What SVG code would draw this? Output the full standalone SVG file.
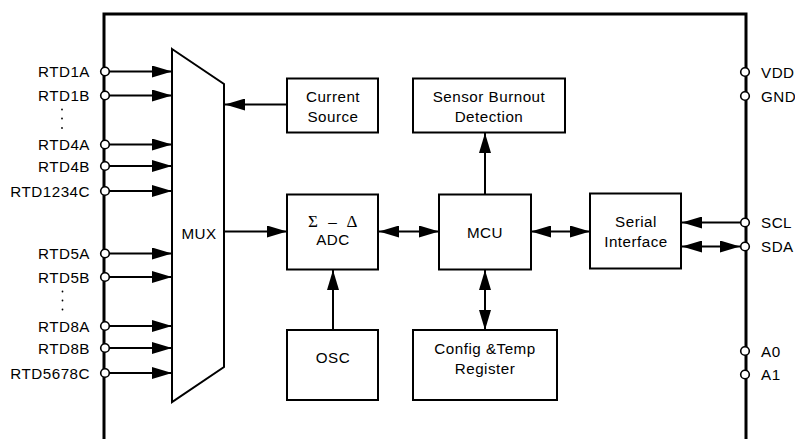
<svg xmlns="http://www.w3.org/2000/svg" width="795" height="439" viewBox="0 0 795 439">
<style>
.lbl{font-family:"Liberation Sans",Arial,sans-serif;font-size:15.2px;letter-spacing:0.5px;fill:#000}
.c{text-anchor:middle}
.e{text-anchor:end}
.box{fill:#fff;stroke:#000;stroke-width:2}
.pin{fill:#fff;stroke:#000;stroke-width:1.6}
.w{stroke:#000;stroke-width:2;fill:none}
.a{marker-end:url(#ah)}
.d{marker-end:url(#ah);marker-start:url(#ah)}
.sym{font-family:"Liberation Serif","Times New Roman",serif;font-size:17px;fill:#000;text-anchor:middle}
</style>
<defs>
<marker id="ah" markerUnits="userSpaceOnUse" markerWidth="20" markerHeight="12" refX="20" refY="6" orient="auto-start-reverse" viewBox="0 0 20 12">
<path d="M0,0 L20,6 L0,12 z" fill="#000"/>
</marker>
</defs>
<rect width="795" height="439" fill="#fff"/>
<g id="frame">
<path d="M104,439 V14 H746 V439" fill="none" stroke="#000" stroke-width="3"/>
</g>
<g id="connectors">
<line class="w a" x1="109" y1="71.5" x2="172" y2="71.5"/>
<line class="w a" x1="109" y1="95.5" x2="172" y2="95.5"/>
<line class="w a" x1="109" y1="144.5" x2="172" y2="144.5"/>
<line class="w a" x1="109" y1="166" x2="172" y2="166"/>
<line class="w a" x1="109" y1="191" x2="172" y2="191"/>
<line class="w a" x1="109" y1="253.5" x2="172" y2="253.5"/>
<line class="w a" x1="109" y1="277" x2="172" y2="277"/>
<line class="w a" x1="109" y1="326" x2="172" y2="326"/>
<line class="w a" x1="109" y1="348" x2="172" y2="348"/>
<line class="w a" x1="109" y1="373" x2="172" y2="373"/>
<line class="w a" x1="287" y1="104.5" x2="225" y2="104.5"/>
<line class="w a" x1="224" y1="231.5" x2="287" y2="231.5"/>
<line class="w d" x1="379" y1="231.5" x2="439" y2="231.5"/>
<line class="w d" x1="531" y1="231.5" x2="590" y2="231.5"/>
<line class="w a" x1="485" y1="194" x2="485" y2="133"/>
<line class="w a" x1="333" y1="330" x2="333" y2="270"/>
<line class="w d" x1="485" y1="270" x2="485" y2="330"/>
<line class="w a" x1="740" y1="222.5" x2="682" y2="222.5"/>
<line class="w d" x1="682" y1="246.5" x2="740" y2="246.5"/>
</g>
<g id="pins-left">
<circle class="pin" cx="105" cy="71.5" r="4.3"/>
<circle class="pin" cx="105" cy="95.5" r="4.3"/>
<circle class="pin" cx="105" cy="144.5" r="4.3"/>
<circle class="pin" cx="105" cy="166" r="4.3"/>
<circle class="pin" cx="105" cy="191" r="4.3"/>
<circle class="pin" cx="105" cy="253.5" r="4.3"/>
<circle class="pin" cx="105" cy="277" r="4.3"/>
<circle class="pin" cx="105" cy="326" r="4.3"/>
<circle class="pin" cx="105" cy="348" r="4.3"/>
<circle class="pin" cx="105" cy="373" r="4.3"/>
<text class="lbl e" x="90" y="77">RTD1A</text>
<text class="lbl e" x="90" y="101">RTD1B</text>
<text class="lbl e" x="90" y="150">RTD4A</text>
<text class="lbl e" x="90" y="171.5">RTD4B</text>
<text class="lbl e" x="90" y="196.5">RTD1234C</text>
<text class="lbl e" x="90" y="259">RTD5A</text>
<text class="lbl e" x="90" y="282.5">RTD5B</text>
<text class="lbl e" x="90" y="331.5">RTD8A</text>
<text class="lbl e" x="90" y="353.5">RTD8B</text>
<text class="lbl e" x="90" y="378.5">RTD5678C</text>
<g fill="#000">
<circle cx="62" cy="109.5" r="0.9"/><circle cx="62" cy="118.5" r="0.9"/><circle cx="62" cy="128" r="0.9"/>
<circle cx="62.5" cy="291.5" r="0.9"/><circle cx="62.5" cy="300.5" r="0.9"/><circle cx="62.5" cy="309.5" r="0.9"/>
</g>
</g>
<g id="pins-right">
<circle class="pin" cx="745" cy="72" r="4.3"/>
<circle class="pin" cx="745" cy="96" r="4.3"/>
<circle class="pin" cx="745" cy="222.5" r="4.3"/>
<circle class="pin" cx="745" cy="246.5" r="4.3"/>
<circle class="pin" cx="745" cy="351" r="4.3"/>
<circle class="pin" cx="745" cy="374.5" r="4.3"/>
<text class="lbl" x="761" y="77.5">VDD</text>
<text class="lbl" x="761" y="101.5">GND</text>
<text class="lbl" x="761" y="228">SCL</text>
<text class="lbl" x="761" y="252">SDA</text>
<text class="lbl" x="761" y="356.5">A0</text>
<text class="lbl" x="761" y="380">A1</text>
</g>
<g id="mux">
<polygon points="172,49 224,84 224,367 172,402" fill="#fff" stroke="#000" stroke-width="2"/>
<text class="lbl c" x="199" y="238.5">MUX</text>
</g>
<g id="current-source">
<rect class="box" x="287" y="78.5" width="91" height="54"/>
<text class="lbl c" x="333" y="101.5">Current</text>
<text class="lbl c" x="333" y="122">Source</text>
</g>
<g id="sensor-burnout">
<rect class="box" x="413" y="78.5" width="152" height="54"/>
<text class="lbl c" x="489" y="101.5">Sensor Burnout</text>
<text class="lbl c" x="489" y="122">Detection</text>
</g>
<g id="adc">
<rect class="box" x="287" y="194.5" width="91" height="75"/>
<text class="sym" x="313" y="227">Σ</text>
<text class="sym" x="332.5" y="227">–</text>
<text class="sym" x="352" y="227">Δ</text>
<text class="lbl c" x="333" y="245">ADC</text>
</g>
<g id="mcu">
<rect class="box" x="439" y="194.5" width="92" height="75"/>
<text class="lbl c" x="485" y="237.5">MCU</text>
</g>
<g id="serial-interface">
<rect class="box" x="590" y="193.5" width="91" height="75"/>
<text class="lbl c" x="636" y="227">Serial</text>
<text class="lbl c" x="636" y="246.5">Interface</text>
</g>
<g id="osc">
<rect class="box" x="287" y="330" width="91" height="70"/>
<text class="lbl c" x="333" y="363">OSC</text>
</g>
<g id="config-temp">
<rect class="box" x="413" y="330" width="144" height="70"/>
<text class="lbl c" x="485" y="354">Config &amp;Temp</text>
<text class="lbl c" x="485" y="373.5">Register</text>
</g>
</svg>
